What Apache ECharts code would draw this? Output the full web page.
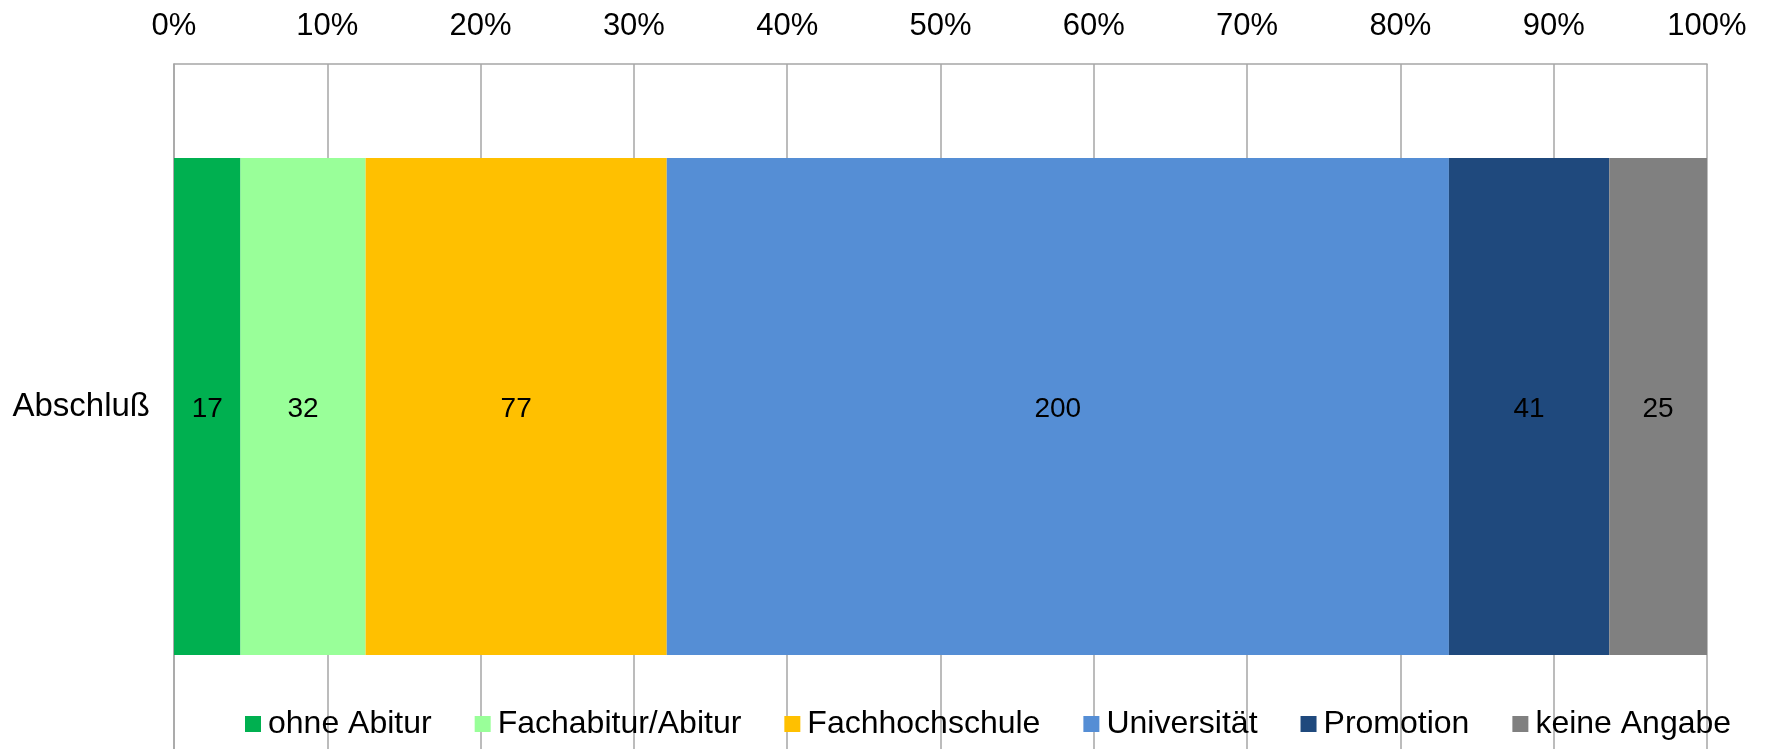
<!DOCTYPE html>
<html>
<head>
<meta charset="utf-8">
<script src="https://cdn.jsdelivr.net/npm/echarts@6/dist/echarts.min.js"></script>
<style>
html,body{margin:0;padding:0;background:#fff;}
#c{width:1765px;height:749px;}
</style>
</head>
<body>
<div id="c"></div>
<script>
const categories = ['Abschluß'];
const seriesNames = ['ohne Abitur', 'Fachabitur/Abitur', 'Fachhochschule', 'Universität', 'Promotion', 'keine Angabe'];
const seriesValues = [17, 32, 77, 200, 41, 25];
const seriesColors = ['#00b050', '#99ff99', '#ffc000', '#558ed5', '#1f497d', '#808080'];
const tickLabels = ['0%', '10%', '20%', '30%', '40%', '50%', '60%', '70%', '80%', '90%', '100%'];

const total = seriesValues.reduce((a, b) => a + b, 0);
const font = 'Liberation Sans, Arial, sans-serif';

const chart = echarts.init(document.getElementById('c'), null, {renderer: 'canvas'});
chart.setOption({
  animation: false,
  backgroundColor: '#ffffff',
  color: seriesColors,
  grid: {left: 174, right: 58, top: 64, height: 688, containLabel: false},
  legend: {
    left: 240, top: 703,
    itemWidth: 16, itemHeight: 16, itemGap: 43,
    icon: 'rect',
    textStyle: {fontFamily: font, fontSize: 32, color: '#000', padding: [0, 0, 0, 2]},
    data: seriesNames
  },
  xAxis: {
    type: 'value', position: 'top', min: 0, max: 100, interval: 10,
    axisLine: {show: true, lineStyle: {color: '#a6a6a6', width: 1.5}},
    axisTick: {show: false},
    splitLine: {show: true, lineStyle: {color: '#a6a6a6', width: 1.5}},
    axisLabel: {
      fontFamily: font, fontSize: 31, color: '#000', margin: 22,
      formatter: v => tickLabels[Math.round(v / 10)]
    }
  },
  yAxis: {
    type: 'category', data: categories,
    axisLine: {show: true, lineStyle: {color: '#a6a6a6', width: 1.5}},
    axisTick: {show: false},
    axisLabel: {fontFamily: font, fontSize: 33, color: '#000', margin: 24, padding: [10, 0, 0, 0]}
  },
  series: seriesNames.map((name, i) => ({
    name: name, type: 'bar', stack: 'all', barWidth: 497,
    data: [seriesValues[i] / total * 100],
    itemStyle: {color: seriesColors[i]},
    label: {
      show: true, position: 'inside', color: '#000', offset: [0, 3],
      fontFamily: font, fontSize: 28,
      formatter: p => String(seriesValues[p.seriesIndex])
    }
  }))
});
</script>
</body>
</html>
